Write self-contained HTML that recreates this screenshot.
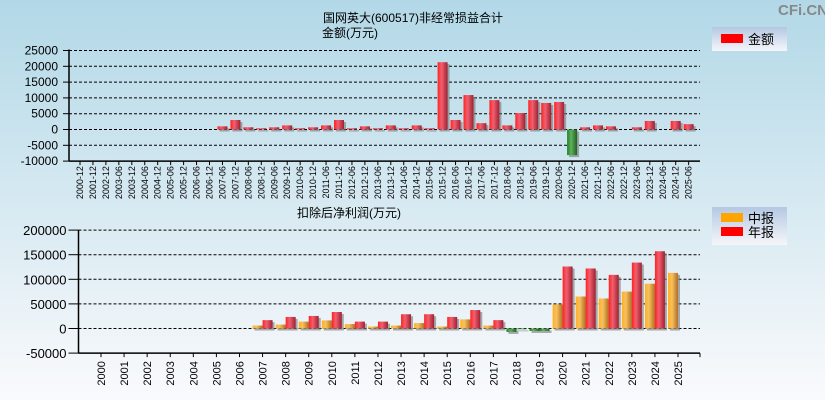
<!DOCTYPE html>
<html><head><meta charset="utf-8"><style>
html,body{margin:0;padding:0;}
body{width:825px;height:400px;overflow:hidden;font-family:"Liberation Sans","Noto Sans CJK SC",sans-serif;}
</style></head><body>
<svg id="c" width="825" height="400" xmlns="http://www.w3.org/2000/svg" font-family="Liberation Sans, Noto Sans CJK SC, sans-serif">
<defs>
<linearGradient id="bg" x1="0" y1="0" x2="0" y2="1"><stop offset="0" stop-color="#b2d8e7"/><stop offset="1" stop-color="#fafafc"/></linearGradient>
<linearGradient id="gr" x1="0" y1="0" x2="1" y2="0"><stop offset="0" stop-color="#ff2222"/><stop offset="0.4" stop-color="#f06070"/><stop offset="1" stop-color="#a02030"/></linearGradient>
<linearGradient id="go" x1="0" y1="0" x2="1" y2="0"><stop offset="0" stop-color="#ffb020"/><stop offset="0.4" stop-color="#f8c060"/><stop offset="1" stop-color="#b07020"/></linearGradient>
<linearGradient id="gg" x1="0" y1="0" x2="1" y2="0"><stop offset="0" stop-color="#208020"/><stop offset="0.4" stop-color="#60b060"/><stop offset="1" stop-color="#206020"/></linearGradient>
<linearGradient id="lg" x1="0" y1="0" x2="0" y2="1"><stop offset="0" stop-color="#b4c8e2"/><stop offset="1" stop-color="#f6f6fa"/></linearGradient>
</defs>
<rect width="825" height="400" fill="url(#bg)"/>
<text x="778" y="15" font-size="15" font-weight="bold" fill="#888">CFi.CN</text>
<text x="323" y="22" font-size="12" fill="#000">国网英大(600517)非经常损益合计</text>
<text x="322" y="37" font-size="12" fill="#000">金额(万元)</text>
<text x="297" y="217" font-size="12" fill="#000">扣除后净利润(万元)</text>
<g>
<rect x="712" y="27" width="75" height="24" fill="url(#lg)"/>
<rect x="721" y="34" width="22" height="9" fill="#ff0000"/>
<text x="748" y="44" font-size="13" fill="#000">金额</text>
</g>
<g>
<rect x="712" y="207" width="75" height="38" fill="url(#lg)"/>
<rect x="721" y="213" width="22" height="9" fill="#ffa500"/>
<text x="748" y="223" font-size="13" fill="#000">中报</text>
<rect x="721" y="227" width="22" height="9" fill="#ff0000"/>
<text x="748" y="237" font-size="13" fill="#000">年报</text>
</g>
<g id="top"></g>
<g id="bot"></g>
</svg>
<script>
const topCats=["2000-12","2001-12","2002-12","2003-06","2003-12","2004-06","2004-12","2005-06","2005-12","2006-06","2006-12","2007-06","2007-12","2008-06","2008-12","2009-06","2009-12","2010-06","2010-12","2011-06","2011-12","2012-06","2012-12","2013-06","2013-12","2014-06","2014-12","2015-06","2015-12","2016-06","2016-12","2017-06","2017-12","2018-06","2018-12","2019-06","2019-12","2020-06","2020-12","2021-06","2021-12","2022-06","2022-12","2023-06","2023-12","2024-06","2024-12","2025-06"];
const topVals=[null,null,null,null,null,null,null,null,null,null,null,1000,3000,700,400,700,1300,400,700,1300,3000,400,1000,400,1300,400,1300,400,21300,3000,10900,2000,9300,1300,5200,9300,8400,8700,-8100,700,1300,1000,0,700,2700,0,2700,1700];
const topTicks=[25000,20000,15000,10000,5000,0,-5000,-10000];
const botCats=["2000","2001","2002","2003","2004","2005","2006","2007","2008","2009","2010","2011","2012","2013","2014","2015","2016","2017","2018","2019","2020","2021","2022","2023","2024","2025"];
const midVals=[null,null,null,null,null,null,null,6000,8000,14000,16500,9000,4000,6000,11000,4000,18500,6000,-7000,-5000,49000,65000,61000,75000,91000,113000];
const annVals=[null,null,null,null,null,null,null,17000,23500,25500,33500,14000,14000,29000,29000,23500,37500,17000,-1500,-5000,126000,122000,109000,134000,157000,null];
const botTicks=[200000,150000,100000,50000,0,-50000];

const NS="http://www.w3.org/2000/svg";
function mk(p,t,a){const e=document.createElementNS(NS,t);for(const k in a)e.setAttribute(k,a[k]);p.appendChild(e);return e;}
function bar(g,x,w,y0,y1,neg,fill){
  const top=Math.min(y0,y1),h=Math.max(Math.abs(y1-y0),0.8);
  const s=mk(g,'rect',{x:x+2,y:top+2,width:w,height:h,fill:'#777','fill-opacity':'0.6'});
  
  
  const r=mk(g,'rect',{x:x,y:top,width:w,height:h,fill:neg?'url(#gg)':fill});
  return r;
}
// top chart
(function(){
  const g=document.getElementById('top');
  const yv=v=>129.5-(v)*(79/25000);
  const xc=i=>80+i*12.95;
  const ax0=69,ax1=700;
  topTicks.forEach(t=>{
    const y=yv(t);
    if(t>-10000){const l=mk(g,'line',{x1:ax0,x2:ax1,y1:y,y2:y,stroke:'#000','stroke-dasharray':'3,2','stroke-width':1});
    
    }
    mk(g,'line',{x1:ax0-6,x2:ax0,y1:y,y2:y,stroke:'#000'});
    const tx=mk(g,'text',{x:ax0-11,y:y+4,'font-size':12,'text-anchor':'end',fill:'#000'});tx.textContent=t;
    
    
  });
  mk(g,'line',{x1:ax0,x2:ax0,y1:yv(25000)-1,y2:yv(-10000),stroke:'#000','stroke-width':1.5});
  mk(g,'line',{x1:ax0,x2:ax1,y1:yv(-10000),y2:yv(-10000),stroke:'#000','stroke-width':1.5});
  topCats.forEach((c,i)=>{
    const x=xc(i);
    mk(g,'line',{x1:x,x2:x,y1:yv(-10000),y2:yv(-10000)+4,stroke:'#000'});
    const tx=mk(g,'text',{transform:`translate(${x+3},${yv(-10000)+5}) rotate(-90)`,'font-size':9,'text-anchor':'end',fill:'#000'});tx.textContent=c;
    
    
    const v=topVals[i];
    if(v!==null&&v!==0){const r=bar(g,x-5,10,yv(0),yv(v),v<0,'url(#gr)');
      
      }
  });
})();
// bottom chart
(function(){
  const g=document.getElementById('bot');
  const yv=v=>328.5-v*(24.6/50000);
  const xc=i=>101+i*23.08;
  const ax0=78.5,ax1=700;
  botTicks.forEach(t=>{
    const y=yv(t);
    if(t>-50000){const l=mk(g,'line',{x1:ax0,x2:ax1,y1:y,y2:y,stroke:'#000','stroke-dasharray':'3,2','stroke-width':1});
    
    }
    mk(g,'line',{x1:ax0-10,x2:ax0,y1:y,y2:y,stroke:'#000'});
    const tx=mk(g,'text',{x:ax0-12,y:y+5,'font-size':13,'text-anchor':'end',fill:'#000'});tx.textContent=t;
    
    
  });
  mk(g,'line',{x1:ax0,x2:ax0,y1:yv(200000),y2:yv(-50000),stroke:'#000','stroke-width':1.5});
  mk(g,'line',{x1:ax0,x2:ax1,y1:yv(-50000),y2:yv(-50000),stroke:'#000','stroke-width':1.5});
  mk(g,'line',{x1:ax1,x2:ax1,y1:yv(-50000),y2:yv(-50000)+4,stroke:'#000'});
  botCats.forEach((c,i)=>{
    const x=xc(i);
    mk(g,'line',{x1:x,x2:x,y1:yv(-50000),y2:yv(-50000)+4,stroke:'#000'});
    const tx=mk(g,'text',{transform:`translate(${x+4},${yv(-50000)+8}) rotate(-90)`,'font-size':11,'text-anchor':'end',fill:'#000'});tx.textContent=c;
    
    
    const m=midVals[i],a=annVals[i];
    if(m!==null){const r=bar(g,x-10,10,yv(0),yv(m),m<0,'url(#go)');
      
      }
    if(a!==null){const r=bar(g,x,10,yv(0),yv(a),a<0,'url(#gr)');
      
      }
  });
})();
</script>
</body></html>
